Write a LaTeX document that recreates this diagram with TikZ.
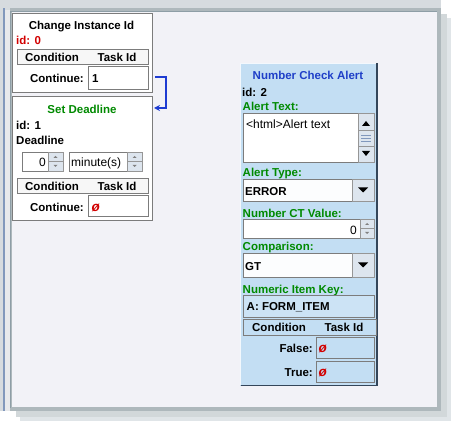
\documentclass[tikz,border=0pt]{standalone}
\usepackage{fontspec}
\setmainfont{Liberation Sans}
\usetikzlibrary{arrows.meta}
\definecolor{framegray}{HTML}{D6DBDF}
\definecolor{frameline}{HTML}{8E9EA6}
\definecolor{edgeblue}{HTML}{8198BC}
\definecolor{shadowgray}{HTML}{AEB8BC}
\definecolor{shadowlight}{HTML}{E0E5E8}
\definecolor{canvasbg}{HTML}{F2F2F7}
\definecolor{boxline}{HTML}{7C7C7C}
\definecolor{alertbg}{HTML}{C3DEF3}
\definecolor{alertdark}{HTML}{34465A}
\definecolor{titleblue}{HTML}{1F3FC8}
\definecolor{labelgreen}{HTML}{008A00}
\definecolor{idred}{HTML}{D20000}
\definecolor{btnfill}{HTML}{DDE5EE}
\definecolor{arrowblue}{HTML}{1E3CD2}
\tikzset{
  lbl/.style={font=\fontsize{11.5}{13}\selectfont\bfseries, inner sep=0pt, text height=8.2pt, text depth=0pt},
  txt/.style={font=\fontsize{12}{14}\selectfont, inner sep=0pt, text height=8.6pt, text depth=0pt},
  panel/.style={draw=boxline, fill=white},
  field/.style={draw=boxline, fill=white},
  header/.style={draw=boxline, fill=white!97!black},
  button/.style={draw=boxline!80, fill=btnfill},
  nullid/.style={lbl, text=idred, font=\fontsize{13.5}{14}\selectfont\bfseries\itshape},
}
% two small spin arrows in a button column: x centre, y top, y bottom
\def\spinarrows#1#2#3{%
  \draw[boxline!80] (#1-7,{(#2+#3)/2}) -- (#1+7,{(#2+#3)/2});
  \fill[gray] (#1-2,#2+6) -- (#1+2,#2+6) -- (#1,#2+4) -- cycle;
  \fill[gray] (#1-2,#3-6) -- (#1+2,#3-6) -- (#1,#3-4) -- cycle;
}
% black drop-down triangle at x centre, y centre
\def\dropdown#1#2{\fill (#1-5,#2-3) -- (#1+5,#2-3) -- (#1,#2+2) -- cycle;}

\begin{document}
\begin{tikzpicture}[x=1pt,y=-1pt]
		%%%%% START %%%%%
		\useasboundingbox (0,0) rectangle (457,427);
		\fill[white] (0,0) rectangle (457,427);
		
		% window frame and shadow
		\fill[shadowlight] (20,18) rectangle (451,421);
		\fill[shadowgray!55] (16,14) rectangle (447,417);
		\fill[framegray] (0,0) rectangle (441,411);
		\fill[shadowgray] (10,8) rectangle (441,411);
		\fill[edgeblue] (3,8) rectangle (5,411);
		\fill[framegray!60] (5,10) rectangle (10,411);
		\draw[frameline] (10.5,11) -- (10.5,408);
		\draw[frameline] (11,11.5) -- (437,11.5);
		\fill[canvasbg] (12,12) rectangle (437,407);
		
		%%%%% Change Instance Id %%%%%
		\draw[panel] (12.5,13.5) rectangle (152,92);
		\node[lbl] (ciTitle) at (81.5,25) {Change Instance Id};
		\node[lbl, text=idred, anchor=west] (ciId) at (16,40.5) {id: 0};
		\draw[header] (17,49) rectangle (148,64);
		\node[lbl] (ciCond) at (52,57) {Condition};
		\node[lbl] (ciTask) at (117,57) {Task Id};
		\node[lbl, anchor=east] (ciCont) at (84,78) {Continue:};
		\draw[field] (88,66) rectangle (148,89);
		\draw[boxline, line width=1.2pt] (88.5,89) -- (88.5,66.5) -- (148,66.5);
		\node[lbl, anchor=west] (ciContId) at (92,78) {1};
		
		%%%%% Set Deadline %%%%%
		\draw[panel] (12.5,96) rectangle (152,220);
		\node[lbl, text=labelgreen] (sdTitle) at (82,109) {Set Deadline};
		\node[lbl, anchor=west] (sdId) at (16,125) {id: 1};
		\node[lbl, anchor=west] (sdLabel) at (16,140) {Deadline};
		\draw[field] (22,152) rectangle (48,171);
		\node[txt, anchor=east] (sdValue) at (46,162) {0};
		\draw[button] (48,152) rectangle (63,171);
		\spinarrows{55.5}{152}{171}
		\draw[field] (69,152) rectangle (127,171);
		\node[txt, anchor=west] (sdUnit) at (71,162) {minute(s)};
		\draw[button] (127,152) rectangle (142,171);
		\spinarrows{134.5}{152}{171}
		\draw[header] (17,178) rectangle (148,193);
		\node[lbl] (sdCond) at (52,186) {Condition};
		\node[lbl] (sdTask) at (117,186) {Task Id};
		\node[lbl, anchor=east] (sdCont) at (84,207) {Continue:};
		\draw[field] (88,195) rectangle (148,216);
		\draw[boxline, line width=1.2pt] (88.5,216) -- (88.5,195.5) -- (148,195.5);
		\node[nullid, anchor=west] (sdContId) at (91.5,207) {ø};
		
		% continue link
		\coordinate (linkOut) at (155,77);
		\coordinate (linkIn) at (154,108);
		\draw[arrowblue, line width=1.6pt, -{Stealth[length=6pt,width=6pt]}] (linkOut) -- ++(11,0) |- (linkIn);
		
		%%%%% Number Check Alert %%%%%
		\fill[alertbg] (240,63) rectangle (377,385.5);
		\draw[white!80!alertbg] (240.5,385) -- (240.5,63.5) -- (377,63.5);
		\draw[alertdark, line width=1.2pt] (240.5,385.5) -- (377,385.5) -- (377,63);
		\node[lbl, text=titleblue] (ncTitle) at (308,75) {Number Check Alert};
		\node[lbl, anchor=west] (ncId) at (242,92) {id: 2};
		
		\node[lbl, text=labelgreen, anchor=west] (ncTextLbl) at (242.5,106.5) {Alert Text:};
		\draw[field] (243.5,113.5) rectangle (358,162);
		\draw[boxline, line width=1.2pt] (243.5,162) -- (243.5,113.5) -- (358,113.5);
		\node[txt, anchor=west] (ncText) at (246,124.5) {<html>Alert text};
		\draw[button] (358,113.5) rectangle (374,130);
		\draw[button] (358,130) rectangle (374,146);
		\draw[button] (358,146) rectangle (374,162);
		\fill (362,126) -- (370,126) -- (366,121) -- cycle;
		\foreach \gy in {135,138,141}
			\draw[edgeblue] (361,\gy) -- (371,\gy);
		\fill (362,151) -- (370,151) -- (366,156) -- cycle;
		
		\node[lbl, text=labelgreen, anchor=west] (ncTypeLbl) at (242.5,172) {Alert Type:};
		\draw[field, fill=white!95!alertbg] (243.5,179.5) rectangle (374,201.5);
		\node[lbl, anchor=west] (ncType) at (245,191) {ERROR};
		\draw[button] (352.5,179.5) rectangle (374,201.5);
		\dropdown{363}{190.5}
		
		\node[lbl, text=labelgreen, anchor=west] (ncValueLbl) at (242.5,213) {Number CT Value:};
		\draw[field] (243.5,219) rectangle (360,238);
		\node[txt, anchor=east] (ncValue) at (357,230) {0};
		\draw[button] (360,219) rectangle (374,238);
		\spinarrows{367}{219}{238}
		
		\node[lbl, text=labelgreen, anchor=west] (ncCompLbl) at (242.5,246) {Comparison:};
		\draw[field, fill=white!95!alertbg] (243.5,253.5) rectangle (374,277);
		\node[lbl, anchor=west] (ncComp) at (245,266) {GT};
		\draw[button] (352.5,253.5) rectangle (374,277);
		\dropdown{363}{265.5}
		
		\node[lbl, text=labelgreen, anchor=west] (ncKeyLbl) at (242.5,289) {Numeric Item Key:};
		\draw[field, fill=alertbg!85!white] (243.5,295) rectangle (374,317.5);
		\node[lbl, anchor=west] (ncKey) at (246.5,306) {A: FORM\_ITEM};
		
		\draw[header, fill=alertbg] (243.5,319) rectangle (376,335);
		\node[lbl] (ncCond) at (279,327) {Condition};
		\node[lbl] (ncTask) at (344,327) {Task Id};
		\node[lbl, anchor=east] (ncFalse) at (313,348.5) {False:};
		\draw[field, fill=alertbg] (316,337) rectangle (374,358.5);
		\draw[boxline, line width=1.2pt] (316.5,358.5) -- (316.5,337.5) -- (374,337.5);
		\node[nullid, anchor=west] (ncFalseId) at (318.5,348.5) {ø};
		\node[lbl, anchor=east] (ncTrue) at (313,372) {True:};
		\draw[field, fill=alertbg] (316,361) rectangle (374,382.5);
		\draw[boxline, line width=1.2pt] (316.5,382.5) -- (316.5,361.5) -- (374,361.5);
		\node[nullid, anchor=west] (ncTrueId) at (318.5,372) {ø};
		%%%%% END %%%%%
	\end{tikzpicture}
\end{document}
